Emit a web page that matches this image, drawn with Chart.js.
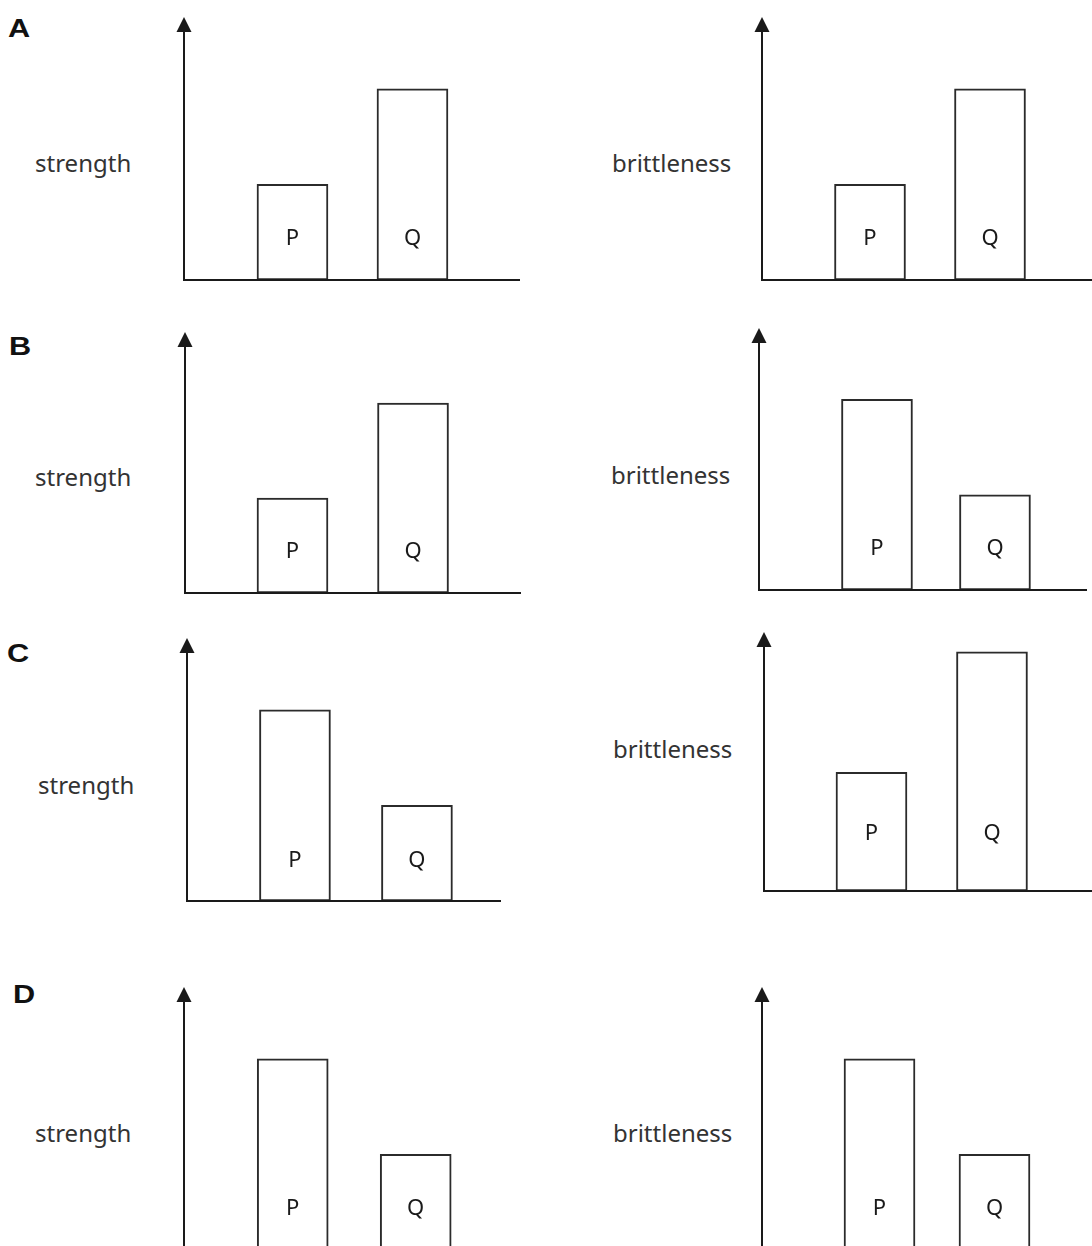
<!DOCTYPE html>
<html>
<head>
<meta charset="utf-8">
<script src="https://cdn.jsdelivr.net/npm/chart.js@4.4.1/dist/chart.umd.min.js"></script>
<style>
	html, body { margin: 0; padding: 0; background: #fff; overflow: hidden; }
	body { position: relative; width: 1092px; height: 1246px; }
	canvas { position: absolute; }
	.option { position: absolute; font: bold 26px "Liberation Sans", Arial, sans-serif; line-height: 26px; color: #111; transform: scaleX(1.18); transform-origin: left top; }
	.quantity { position: absolute; font: 24px "Noto Sans", sans-serif; line-height: 24px; color: #333; white-space: nowrap; }
</style>
</head>
<body>
<script>
// materials on the x axis of every small chart
const categories = ['P', 'Q'];
const optionLetters = ['A', 'B', 'C', 'D'];
const quantities = ['strength', 'brittleness'];

// bar heights (arbitrary units)
const strengthA = [1, 2];
const brittlenessA = [1, 2];
const strengthB = [1, 2];
const brittlenessB = [2, 1];
const strengthC = [2, 1];
const brittlenessC = [1.26, 2.54];
const strengthD = [2, 1];
const brittlenessD = [2, 1];

// value at the tip of the y arrow
const yMax = 2.75;

// page layout of each panel (pixels) and x scale bounds
let panels = [
	{ values: strengthA, q: 0, axisX: 184, tipY: 17, baseY: 280, axisEnd: 520, xMin: 0.096, xMax: 2.896, textX: 35, textBase: 172, rise: 35 },
	{ values: brittlenessA, q: 1, axisX: 762, tipY: 17, baseY: 280, axisEnd: 1092, xMin: 0.1, xMax: 2.85, textX: 612, textBase: 172, rise: 35 },
	{ values: strengthB, q: 0, axisX: 185, tipY: 332, baseY: 593, axisEnd: 521, xMin: 0.108, xMax: 2.896, textX: 35, textBase: 486, rise: 35 },
	{ values: brittlenessB, q: 1, axisX: 759, tipY: 328, baseY: 590, axisEnd: 1087, xMin: 0, xMax: 2.78, textX: 611, textBase: 484, rise: 35 },
	{ values: strengthC, q: 0, axisX: 187, tipY: 638, baseY: 901, axisEnd: 501, xMin: 0.115, xMax: 2.689, textX: 38, textBase: 794, rise: 34 },
	{ values: brittlenessC, q: 1, axisX: 764, tipY: 632, baseY: 891, axisEnd: 1092, xMin: 0.108, xMax: 2.83, textX: 613, textBase: 758, rise: 51 },
	{ values: strengthD, q: 0, axisX: 184, tipY: 987, baseY: 1250, axisEnd: 520, xMin: 0.116, xMax: 2.848, textX: 35, textBase: 1142, rise: 35 },
	{ values: brittlenessD, q: 1, axisX: 762, tipY: 987, baseY: 1250, axisEnd: 1092, xMin: -0.022, xMax: 2.848, textX: 613, textBase: 1142, rise: 35 },
];

let letterPos = [
	{ x: 8, base: 37 },
	{ x: 9, base: 355 },
	{ x: 7, base: 662 },
	{ x: 13, base: 1003 },
];

let pad = { left: 12, top: 2, right: 2, bottom: 4 };

// y axis with arrow head, x axis line, and P / Q inside the bars
let axesWithArrow = {
	id: 'axesWithArrow',
	afterDatasetsDraw (chart, args, opts) {
		let { ctx, chartArea } = chart;
		ctx.save();
		ctx.strokeStyle = '#1a1a1a';
		ctx.fillStyle = '#1a1a1a';
		ctx.lineWidth = 2;
		ctx.beginPath();
		ctx.moveTo(chartArea.left, chartArea.top + 10);
		ctx.lineTo(chartArea.left, chartArea.bottom);
		ctx.lineTo(chartArea.right, chartArea.bottom);
		ctx.stroke();

		ctx.beginPath();
		ctx.moveTo(chartArea.left, chartArea.top);
		ctx.lineTo(chartArea.left - 7.5, chartArea.top + 15);
		ctx.lineTo(chartArea.left + 7.5, chartArea.top + 15);
		ctx.closePath();
		ctx.fill();

		ctx.font = '22px "Noto Sans", sans-serif';
		ctx.textAlign = 'center';
		ctx.textBaseline = 'alphabetic';
		ctx.fillStyle = '#1a1a1a';
		chart.getDatasetMeta(0).data.forEach((bar, i) => {
			ctx.fillText(categories[i], bar.x, chartArea.bottom - opts.rise);
		});
		ctx.restore();
	},
};

let addText = (cls, text, left, top) => {
	let el = document.createElement('div');
	el.className = cls;
	el.textContent = text;
	el.style.left = left + 'px';
	el.style.top = top + 'px';
	document.body.appendChild(el);
};

optionLetters.forEach((letter, i) => {
	addText('option', letter, letterPos[i].x, letterPos[i].base - 22);
});

panels.forEach((p) => {
	addText('quantity', quantities[p.q], p.textX, p.textBase - 21);

	let canvas = document.createElement('canvas');
	canvas.width = p.axisEnd - p.axisX + pad.left + pad.right;
	canvas.height = p.baseY - p.tipY + pad.top + pad.bottom;
	canvas.style.left = (p.axisX - pad.left) + 'px';
	canvas.style.top = (p.tipY - pad.top) + 'px';
	document.body.appendChild(canvas);

	new Chart(canvas, {
		type: 'bar',
		data: {
			datasets: [{
				data: categories.map((c, i) => ({ x: i + 1, y: p.values[i] })),
				backgroundColor: '#fff',
				borderColor: '#2b2b2b',
				borderWidth: 2,
				borderSkipped: false,
				barThickness: 71,
			}],
		},
		options: {
			responsive: false,
			animation: false,
			events: [],
			layout: { padding: pad },
			plugins: {
				legend: { display: false },
				tooltip: { enabled: false },
				axesWithArrow: { rise: p.rise },
			},
			scales: {
				x: { type: 'linear', min: p.xMin, max: p.xMax, offset: false, display: false },
				y: { min: 0, max: yMax, display: false },
			},
		},
		plugins: [axesWithArrow],
	});
});
</script>
</body>
</html>
